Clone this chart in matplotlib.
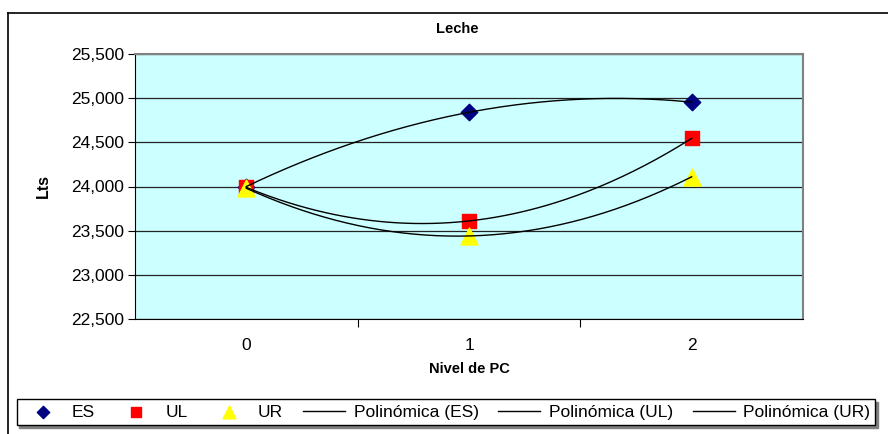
import numpy as np
import matplotlib.pyplot as plt
from matplotlib.lines import Line2D

plt.rcParams['font.family'] = ['Liberation Sans', 'DejaVu Sans']

# nivel de PC (categorias) y litros de leche por grupo
niveles = [0, 1, 2]
es_lts = [24000, 24840, 24955]
ul_lts = [23990, 23610, 24545]
ur_lts = [23980, 23440, 24110]
yticks = [22500, 23000, 23500, 24000, 24500, 25000, 25500]

W, H = 888, 434
fig = plt.figure(figsize=(W / 100, H / 100), dpi=100)
ax = fig.add_axes([135 / W, 1 - 319 / H, (803 - 135) / W, (319 - 54) / H])
ax.set_facecolor('#CCFFFF')

# borde del grafico (se sale por la derecha y por abajo)
fig.add_artist(Line2D([8 / W, 8 / W], [0, 1 - 13 / H], color='black', lw=1.2))
fig.add_artist(Line2D([8 / W, 1], [1 - 13 / H, 1 - 13 / H], color='black', lw=1.2))

x = np.array(niveles)
xs = np.linspace(0, 2, 200)

ax.scatter(x, es_lts, marker='D', s=70, color='#000080', zorder=3, label='ES')
ax.scatter(x, ul_lts, marker='s', s=110, color='#FF0000', zorder=3, label='UL')
ax.scatter(x, ur_lts, marker='^', s=150, color='#FFFF00', zorder=3, label='UR')

# lineas de tendencia polinomicas (grado 2)
for serie, nombre in [(es_lts, 'ES'), (ul_lts, 'UL'), (ur_lts, 'UR')]:
    coef = np.polyfit(x, serie, 2)
    ax.plot(xs, np.polyval(coef, xs), color='black', lw=1.0, zorder=4,
            label='Polinómica (%s)' % nombre)

ax.set_xlim(-0.5, 2.5)
ax.set_ylim(22500, 25500)
ax.set_yticks(yticks)
ax.set_yticklabels(['{:,}'.format(v) for v in yticks], fontsize=12.5)
ax.set_xticks([0.5, 1.5], minor=False)
ax.set_xticklabels([])
ax.set_xticks(x, minor=True)
ax.set_xticklabels([str(v) for v in niveles], minor=True, fontsize=12.5)
ax.tick_params(axis='x', which='major', length=6, direction='out', color='black')
ax.tick_params(axis='x', which='minor', length=0, pad=14)
ax.tick_params(axis='y', length=5, direction='out', pad=3)
ax.grid(axis='y', color='#222222', lw=0.9)
ax.set_axisbelow(True)

for lado in ['top', 'right']:
    ax.spines[lado].set_color('#808080')
    ax.spines[lado].set_linewidth(1.5)
ax.spines['left'].set_color('black')
ax.spines['bottom'].set_color('black')

ax.set_ylabel('Lts', fontsize=11.5, fontweight='bold', labelpad=14)
ax.set_xlabel('Nivel de PC', fontsize=10.5, fontweight='bold', labelpad=6)
fig.text(457 / W, 1 - 29 / H, 'Leche', fontsize=10.5, fontweight='bold',
         ha='center', va='center')

h, l = ax.get_legend_handles_labels()
leg = fig.legend(h, l, loc='center', ncol=6, fontsize=12.5,
                 bbox_to_anchor=(446 / W, 1 - 412 / H), frameon=True,
                 fancybox=False, handlelength=2.4, markerscale=0.75,
                 handletextpad=0.5, columnspacing=1.15, borderpad=0.3,
                 edgecolor='black', scatterpoints=1,
                 shadow={'color': '#808080', 'alpha': 1.0, 'ox': 2, 'oy': -2})
leg.get_frame().set_linewidth(1.0)

fig.savefig('out.png', dpi=100)
